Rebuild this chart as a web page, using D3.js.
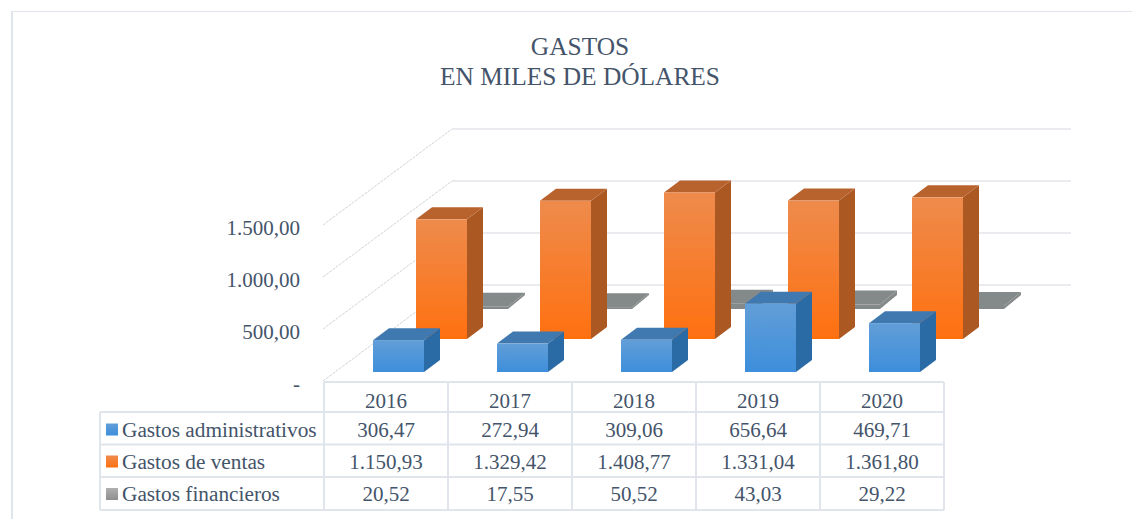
<!DOCTYPE html>
<html>
<head>
<meta charset="utf-8">
<style>
  html, body { margin: 0; padding: 0; background: #fff; }
  svg { display: block; }
  text { font-family: "Liberation Serif", serif; fill: #44546a; }
</style>
</head>
<body>
<svg width="1132" height="519"></svg>
<script src="https://d3js.org/d3.v7.min.js"></script>
<script>

var years = ["2016", "2017", "2018", "2019", "2020"];
var seriesNames = ["Gastos administrativos", "Gastos de ventas", "Gastos financieros"];
var administrativos = [306.47, 272.94, 309.06, 656.64, 469.71];
var ventas = [1150.93, 1329.42, 1408.77, 1331.04, 1361.80];
var financieros = [20.52, 17.55, 50.52, 43.03, 29.22];
var yTicks = [0, 500, 1000, 1500];
var titleLines = ["GASTOS", "EN MILES DE DÓLARES"];

var seriesValues = [administrativos, ventas, financieros];
var colors = [
  {top: "#3f78b0", side: "#2c6ba5", grad: ["#629ed8", "#3d8edb"]},
  {top: "#b8632f", side: "#ab5822", grad: ["#ee8b4c", "#ff7010"]},
  {top: "#84898a", side: "#84898a", grad: ["#84898a", "#84898a"]}
];
var legendGrey = ["#b0b0b0", "#8f8f8f"];

var svg = d3.select("svg");
var tableColor = "#e0e5ec", gridColor = "#e2e5ea";

// es number format: 1.150,93
var es = d3.formatLocale({decimal: ",", thousands: ".", grouping: [3], currency: ["", ""]});
var fmt = es.format(",.2f");

var floorY = 381, floorX = 324, tableRight = 944;

var x = d3.scaleBand().domain(years).range([floorX, tableRight]);
var h = d3.scaleLinear().domain([0, 1500]).range([0, 156]);
// how far each row of bars sits back on the floor
var depthY = d3.scaleOrdinal().domain(seriesNames).range([9, 42, 72]);
var depthX = d3.scaleOrdinal().domain(seriesNames).range([12, 55, 96]);
var boxDx = d3.scaleOrdinal().domain(seriesNames).range([16, 16, 17]);
var boxDy = d3.scaleOrdinal().domain(seriesNames).range([12, 12, 14]);

var barOffset = 37, barWidth = 51;
var wallDepth = 96, wallDx = 129;

// gradients
var defs = svg.append("defs");
function addGrad(id, pair) {
  var g = defs.append("linearGradient").attr("id", id)
    .attr("x1", 0).attr("x2", 0).attr("y1", 0).attr("y2", 1);
  g.append("stop").attr("offset", "0%").attr("stop-color", pair[0]);
  g.append("stop").attr("offset", "100%").attr("stop-color", pair[1]);
}
colors.forEach(function(c, i) { addGrad("grad" + i, c.grad); });
addGrad("legend2", legendGrey);
defs.append("filter").attr("id", "soft")
  .append("feGaussianBlur").attr("stdDeviation", 0.45);

// outer frame (only top and left show)
svg.append("line").attr("x1", 12).attr("x2", 1132).attr("y1", 11.5).attr("y2", 11.5)
  .attr("stroke", tableColor);
svg.append("line").attr("x1", 12).attr("x2", 12).attr("y1", 11).attr("y2", 519)
  .attr("stroke", tableColor).attr("stroke-width", 2);

// title
svg.append("g").selectAll("text").data(titleLines).join("text")
  .attr("x", 580)
  .attr("y", function(d, i) { return 54.5 + i * 30.5; })
  .attr("text-anchor", "middle")
  .attr("font-size", 25.4)
  .text(function(d) { return d; });

// walls and gridlines
var grid = svg.append("g");
grid.selectAll("line.side").data(yTicks).join("line")
  .attr("class", "side")
  .attr("x1", floorX - 1)
  .attr("y1", function(d) { return floorY - h(d); })
  .attr("x2", floorX - 1 + wallDx)
  .attr("y2", function(d) { return floorY - wallDepth - h(d); })
  .attr("stroke", "#cfd4da").attr("stroke-dasharray", "3 1");
grid.selectAll("line.back").data(yTicks).join("line")
  .attr("class", "back")
  .attr("x1", floorX - 1 + wallDx)
  .attr("x2", 1071)
  .attr("y1", function(d) { return floorY - wallDepth - h(d); })
  .attr("y2", function(d) { return floorY - wallDepth - h(d); })
  .attr("stroke", gridColor).attr("stroke-width", 1.4);

// y axis labels
var yAxisScale = d3.scaleLinear().domain([0, 1500]).range([384, 228]);
var yAxis = svg.append("g")
  .attr("transform", "translate(300,0)")
  .call(d3.axisLeft(yAxisScale).tickValues(yTicks).tickSize(0).tickPadding(0)
    .tickFormat(function(d) { return d === 0 ? "-" : fmt(d); }));
yAxis.select(".domain").remove();
yAxis.attr("font-family", null).attr("font-size", null);
yAxis.selectAll("text").attr("font-size", 21).attr("fill", null);

// 3d bars, back row first
var bars = svg.append("g").attr("filter", "url(#soft)");
[2, 1, 0].forEach(function(s) {
  var name = seriesNames[s], c = colors[s];
  var dx = boxDx(name), dy = boxDy(name), baseY = floorY - depthY(name);
  var g = bars.append("g");
  var items = years.map(function(y, i) { return {year: y, value: seriesValues[s][i]}; });

  function left(d) { return x(d.year) + barOffset + depthX(name); }
  function top(d) { return baseY - h(d.value); }

  g.selectAll("path.side").data(items).join("path")
    .attr("class", "side")
    .attr("fill", c.side)
    .attr("d", function(d) {
      var r = left(d) + barWidth;
      return d3.line()([[r, top(d)], [r + dx, top(d) - dy], [r + dx, baseY - dy], [r, baseY]]) + "Z";
    });
  g.selectAll("path.top").data(items).join("path")
    .attr("class", "top")
    .attr("fill", c.top)
    .attr("d", function(d) {
      var l = left(d), r = l + barWidth;
      return d3.line()([[l, top(d)], [l + dx, top(d) - dy], [r + dx, top(d) - dy], [r, top(d)]]) + "Z";
    });
  g.selectAll("rect").data(items).join("rect")
    .attr("x", left)
    .attr("y", top)
    .attr("width", barWidth)
    .attr("height", function(d) { return h(d.value); })
    .attr("fill", "url(#grad" + s + ")");
});

// data table
var rowY = [382, 412, 444.5, 477, 510];
var tableLeft = 100;
var table = svg.append("g");
function tline(x1, y1, x2, y2) {
  table.append("line").attr("x1", x1).attr("y1", y1).attr("x2", x2).attr("y2", y2)
    .attr("stroke", tableColor).attr("stroke-width", 2);
}
tline(floorX, rowY[0], tableRight, rowY[0]);
rowY.slice(1).forEach(function(y) { tline(tableLeft, y, tableRight, y); });
tline(tableLeft, rowY[1], tableLeft, rowY[4]);
tline(floorX, rowY[0], floorX, rowY[4]);
years.forEach(function(y) { tline(x(y) + x.bandwidth(), rowY[0], x(y) + x.bandwidth(), rowY[4]); });

table.selectAll("text.year").data(years).join("text")
  .attr("class", "year")
  .attr("x", function(d) { return x(d) + x.bandwidth() / 2; })
  .attr("y", 408)
  .attr("text-anchor", "middle")
  .attr("font-size", 21)
  .text(function(d) { return d; });

var baselines = [436.5, 468.5, 501];
seriesNames.forEach(function(name, s) {
  table.append("rect")
    .attr("x", 106).attr("y", baselines[s] - 13)
    .attr("width", 12).attr("height", 12)
    .attr("fill", s === 2 ? "url(#legend2)" : "url(#grad" + s + ")");
  table.append("text")
    .attr("x", 122).attr("y", baselines[s])
    .attr("font-size", 21.3)
    .text(name);
  table.selectAll("text.v" + s).data(seriesValues[s]).join("text")
    .attr("class", "v" + s)
    .attr("x", function(d, i) { return x(years[i]) + x.bandwidth() / 2; })
    .attr("y", baselines[s])
    .attr("text-anchor", "middle")
    .attr("font-size", 21)
    .text(function(d) { return fmt(d); });
});

</script>
</body>
</html>
